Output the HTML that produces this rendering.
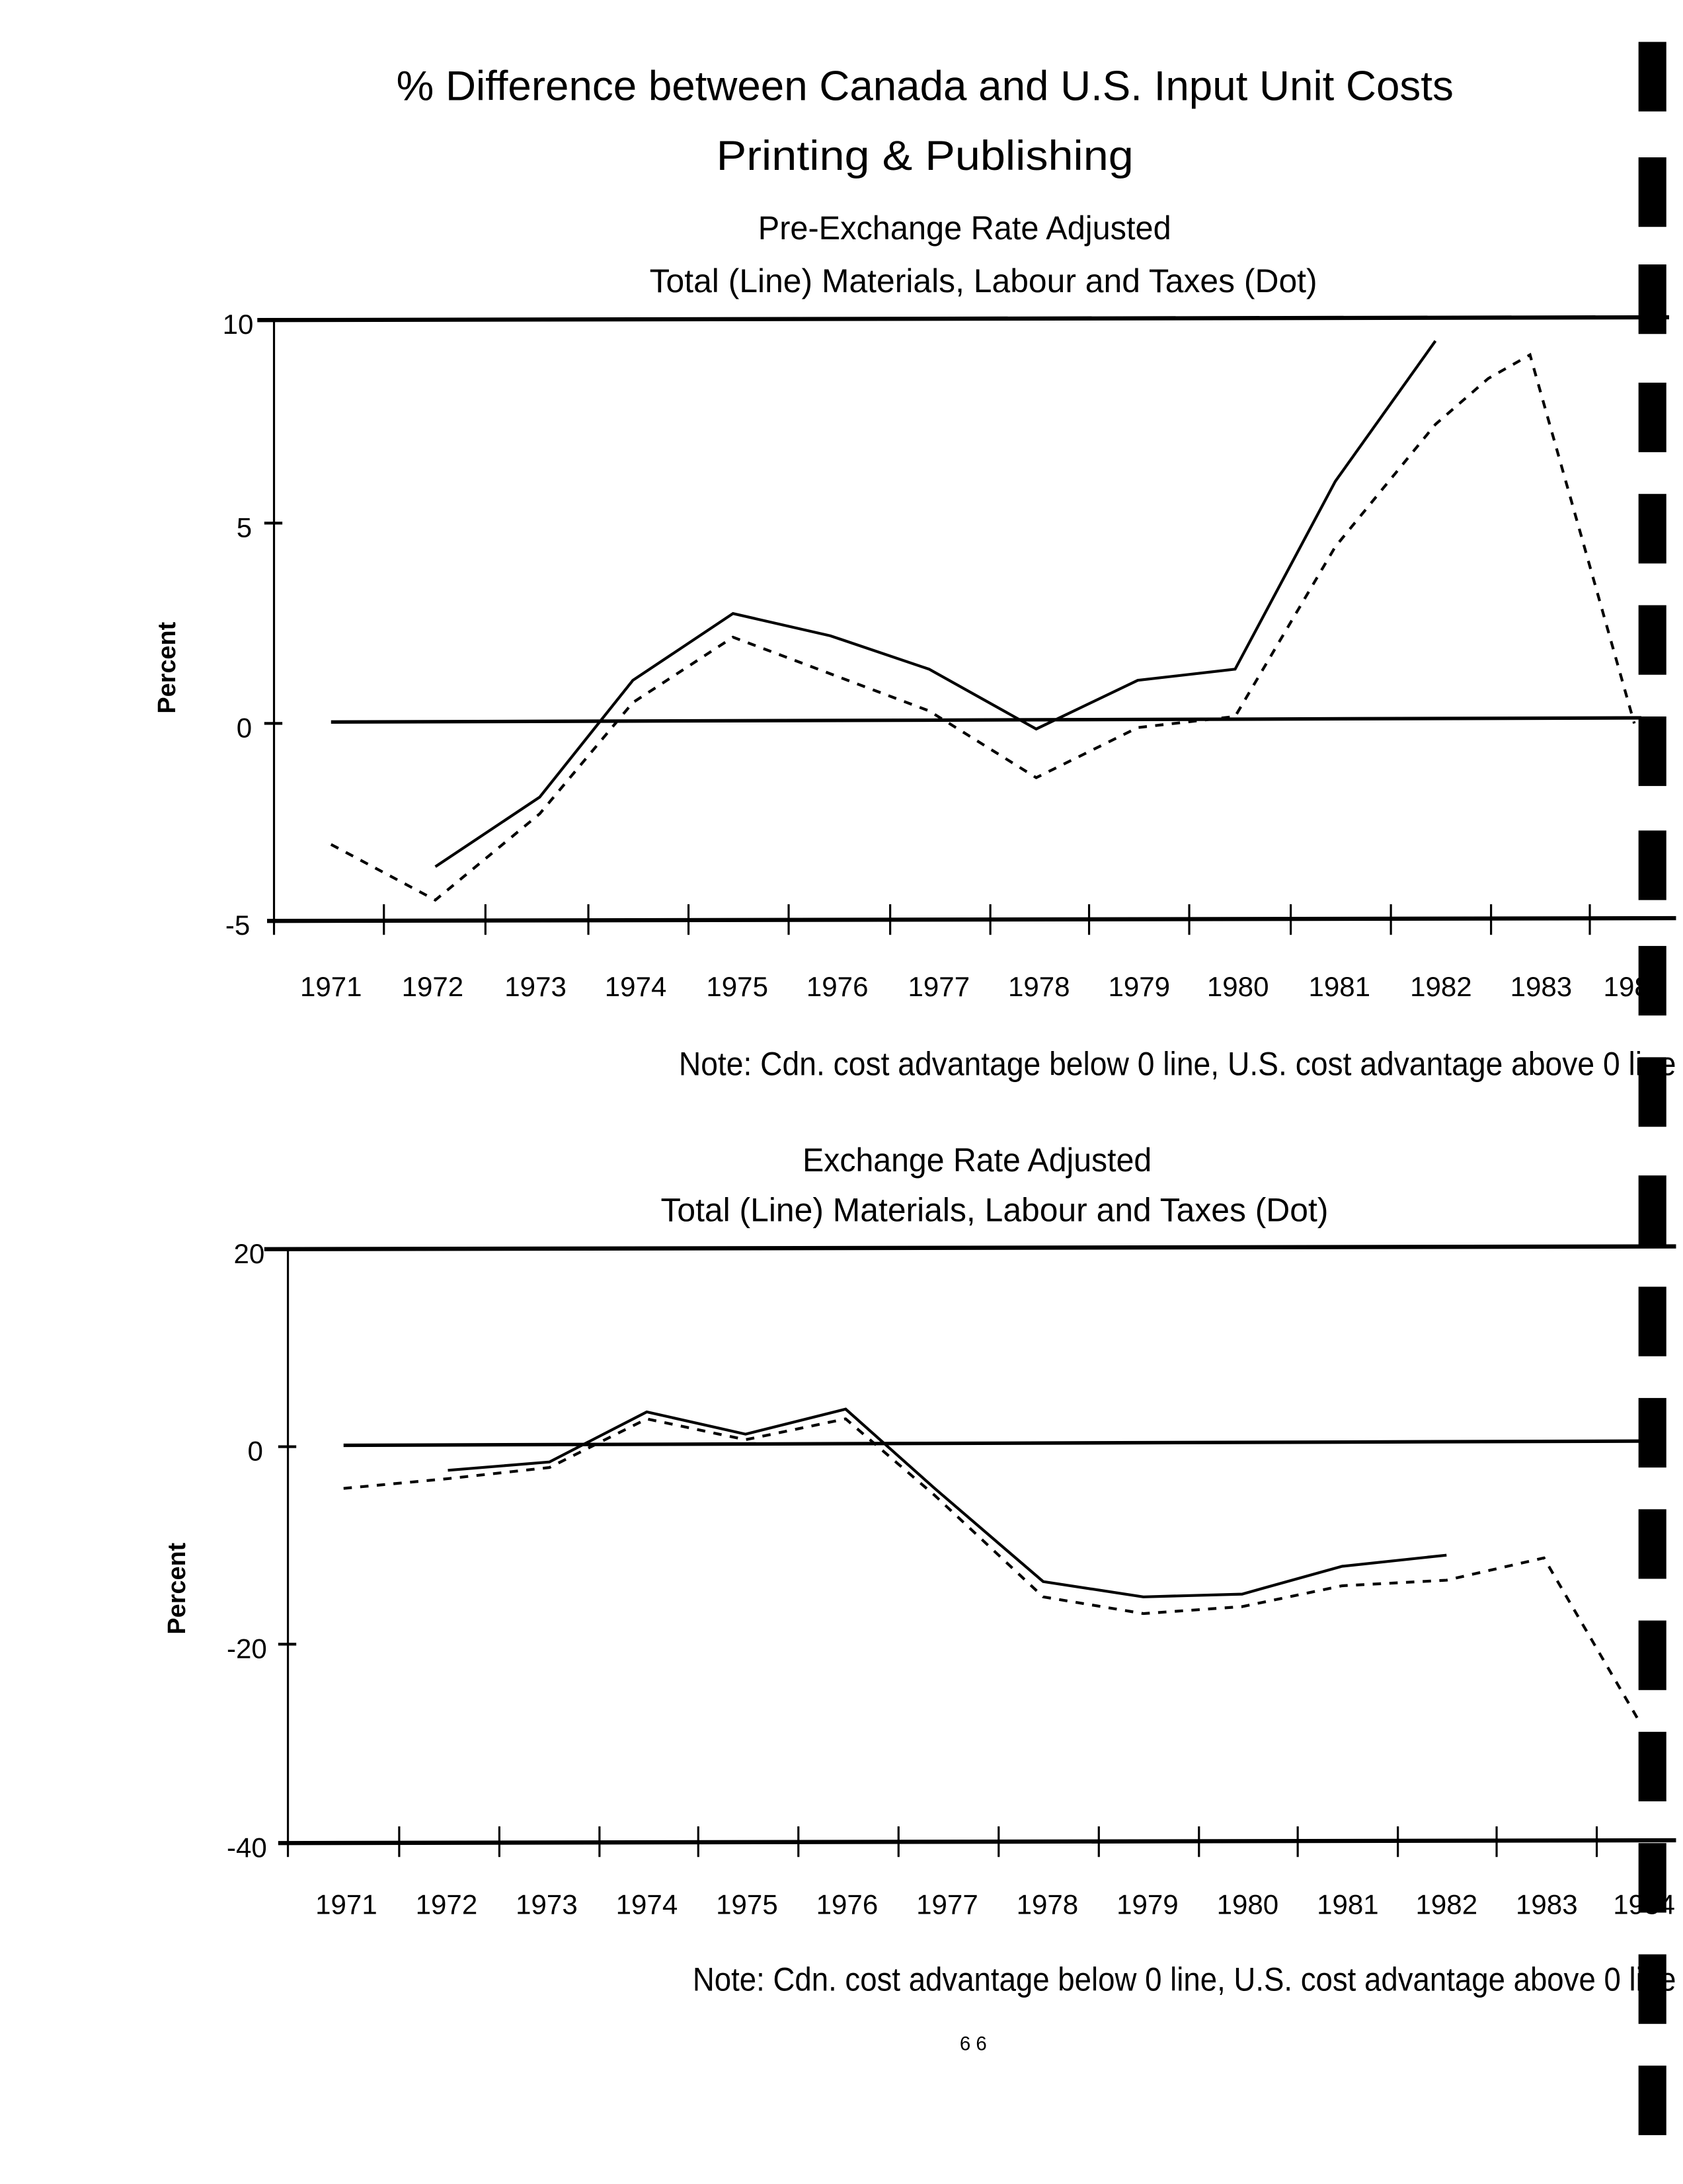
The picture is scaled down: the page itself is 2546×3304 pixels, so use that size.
<!DOCTYPE html>
<html><head><meta charset="utf-8"><style>html,body{margin:0;padding:0;background:#fff}svg{display:block}</style></head><body>
<svg width="2546" height="3304" viewBox="0 0 1210 1570" xmlns="http://www.w3.org/2000/svg" font-family="Liberation Sans, sans-serif" fill="#000">
<rect width="1210" height="1570" fill="#fff"/>
<g font-size="30" text-anchor="start">
<text x="285" y="72" textLength="760" lengthAdjust="spacingAndGlyphs">% Difference between Canada and U.S. Input Unit Costs</text>
<text x="515" y="122" textLength="300" lengthAdjust="spacingAndGlyphs">Printing &amp; Publishing</text>
</g>
<g font-size="24">
<text x="545" y="172" textLength="297" lengthAdjust="spacingAndGlyphs">Pre-Exchange Rate Adjusted</text>
<text x="467" y="210" textLength="480" lengthAdjust="spacingAndGlyphs">Total (Line)   Materials, Labour and Taxes (Dot)</text>
<text x="577" y="842" textLength="251" lengthAdjust="spacingAndGlyphs">Exchange Rate Adjusted</text>
<text x="475" y="878" textLength="480" lengthAdjust="spacingAndGlyphs">Total (Line)   Materials, Labour and Taxes (Dot)</text>
<text x="488" y="773" textLength="717" lengthAdjust="spacingAndGlyphs">Note: Cdn. cost advantage below 0 line, U.S. cost advantage above 0 line</text>
<text x="498" y="1431" textLength="707" lengthAdjust="spacingAndGlyphs">Note: Cdn. cost advantage below 0 line, U.S. cost advantage above 0 line</text>
</g>
<text x="690" y="1474" font-size="14">6 6</text>
<g font-size="18" font-weight="bold">
<text transform="translate(126,480) rotate(-90)" text-anchor="middle">Percent</text>
<text transform="translate(133,1142) rotate(-90)" text-anchor="middle">Percent</text>
</g>
<!-- top chart -->
<g stroke="#000" fill="none">
<line x1="185" y1="230" x2="1200" y2="228" stroke-width="3"/>
<line x1="197" y1="230" x2="197" y2="672" stroke-width="1.5"/>
<line x1="192" y1="662" x2="1205" y2="660" stroke-width="3"/>
<line x1="238" y1="519" x2="1180" y2="516" stroke-width="2.5"/>
<line x1="190" y1="376" x2="203" y2="376" stroke-width="2"/>
<line x1="190" y1="520" x2="203" y2="520" stroke-width="2"/>
<g stroke-width="1.5">
<line x1="276" y1="650" x2="276" y2="672"/><line x1="349" y1="650" x2="349" y2="672"/><line x1="423" y1="650" x2="423" y2="672"/><line x1="495" y1="650" x2="495" y2="672"/><line x1="567" y1="650" x2="567" y2="672"/><line x1="640" y1="650" x2="640" y2="672"/><line x1="712" y1="650" x2="712" y2="672"/><line x1="783" y1="650" x2="783" y2="672"/><line x1="855" y1="650" x2="855" y2="672"/><line x1="928" y1="650" x2="928" y2="672"/><line x1="1000" y1="650" x2="1000" y2="672"/><line x1="1072" y1="650" x2="1072" y2="672"/><line x1="1143" y1="650" x2="1143" y2="672"/>
</g>
<polyline points="313,623 388,573 455,489 527,441 597,457 668,481 745,524 818,489 888,481 960,346 1032,245" stroke-width="2"/>
<polyline points="238,607 313,647 388,585 455,505 527,458 668,511 745,559 818,523 888,515 960,393 1032,305 1070,272 1100,255 1175,520" stroke-width="2" stroke-dasharray="6,6"/>
</g>
<g font-size="20">
<text x="160" y="240">10</text><text x="170" y="386">5</text><text x="170" y="530">0</text><text x="162" y="672">-5</text>
</g>
<g font-size="20" text-anchor="middle">
<text x="238" y="716">1971</text><text x="311" y="716">1972</text><text x="385" y="716">1973</text><text x="457" y="716">1974</text><text x="530" y="716">1975</text><text x="602" y="716">1976</text><text x="675" y="716">1977</text><text x="747" y="716">1978</text><text x="819" y="716">1979</text><text x="890" y="716">1980</text><text x="963" y="716">1981</text><text x="1036" y="716">1982</text><text x="1108" y="716">1983</text><text x="1175" y="716">1984</text>
</g>
<!-- bottom chart -->
<g stroke="#000" fill="none">
<line x1="190" y1="898" x2="1205" y2="896" stroke-width="3"/>
<line x1="207" y1="898" x2="207" y2="1335" stroke-width="1.5"/>
<line x1="200" y1="1325" x2="1205" y2="1323" stroke-width="3"/>
<line x1="247" y1="1039" x2="1180" y2="1036" stroke-width="2.5"/>
<line x1="200" y1="1040" x2="213" y2="1040" stroke-width="2"/>
<line x1="200" y1="1182" x2="213" y2="1182" stroke-width="2"/>
<g stroke-width="1.5">
<line x1="287" y1="1313" x2="287" y2="1335"/><line x1="359" y1="1313" x2="359" y2="1335"/><line x1="431" y1="1313" x2="431" y2="1335"/><line x1="502" y1="1313" x2="502" y2="1335"/><line x1="574" y1="1313" x2="574" y2="1335"/><line x1="646" y1="1313" x2="646" y2="1335"/><line x1="718" y1="1313" x2="718" y2="1335"/><line x1="790" y1="1313" x2="790" y2="1335"/><line x1="862" y1="1313" x2="862" y2="1335"/><line x1="933" y1="1313" x2="933" y2="1335"/><line x1="1005" y1="1313" x2="1005" y2="1335"/><line x1="1076" y1="1313" x2="1076" y2="1335"/><line x1="1148" y1="1313" x2="1148" y2="1335"/>
</g>
<polyline points="322,1057 395,1051 465,1015 536,1031 608,1013 672,1070 750,1137 822,1148 893,1146 965,1126 1040,1118" stroke-width="2"/>
<polyline points="247,1070 322,1063 395,1055 465,1020 536,1035 608,1020 672,1075 750,1148 822,1160 893,1155 965,1140 1040,1136 1110,1120 1180,1240" stroke-width="2" stroke-dasharray="6,6"/>
</g>
<g font-size="20">
<text x="168" y="908">20</text><text x="178" y="1050">0</text><text x="163" y="1192">-20</text><text x="163" y="1335">-40</text>
</g>
<g font-size="20" text-anchor="middle">
<text x="249" y="1376">1971</text><text x="321" y="1376">1972</text><text x="393" y="1376">1973</text><text x="465" y="1376">1974</text><text x="537" y="1376">1975</text><text x="609" y="1376">1976</text><text x="681" y="1376">1977</text><text x="753" y="1376">1978</text><text x="825" y="1376">1979</text><text x="897" y="1376">1980</text><text x="969" y="1376">1981</text><text x="1040" y="1376">1982</text><text x="1112" y="1376">1983</text><text x="1182" y="1376">1984</text>
</g>
<!-- right-edge bars -->
<g fill="#000">
<rect x="1178" y="30" width="20" height="50"/><rect x="1178" y="113" width="20" height="50"/><rect x="1178" y="190" width="20" height="50"/><rect x="1178" y="275" width="20" height="50"/><rect x="1178" y="355" width="20" height="50"/><rect x="1178" y="435" width="20" height="50"/><rect x="1178" y="515" width="20" height="50"/><rect x="1178" y="597" width="20" height="50"/><rect x="1178" y="680" width="20" height="50"/><rect x="1178" y="760" width="20" height="50"/><rect x="1178" y="845" width="20" height="50"/><rect x="1178" y="925" width="20" height="50"/><rect x="1178" y="1005" width="20" height="50"/><rect x="1178" y="1085" width="20" height="50"/><rect x="1178" y="1165" width="20" height="50"/><rect x="1178" y="1245" width="20" height="50"/><rect x="1178" y="1325" width="20" height="50"/><rect x="1178" y="1405" width="20" height="50"/><rect x="1178" y="1485" width="20" height="50"/>
</g>
</svg>
</body></html>
